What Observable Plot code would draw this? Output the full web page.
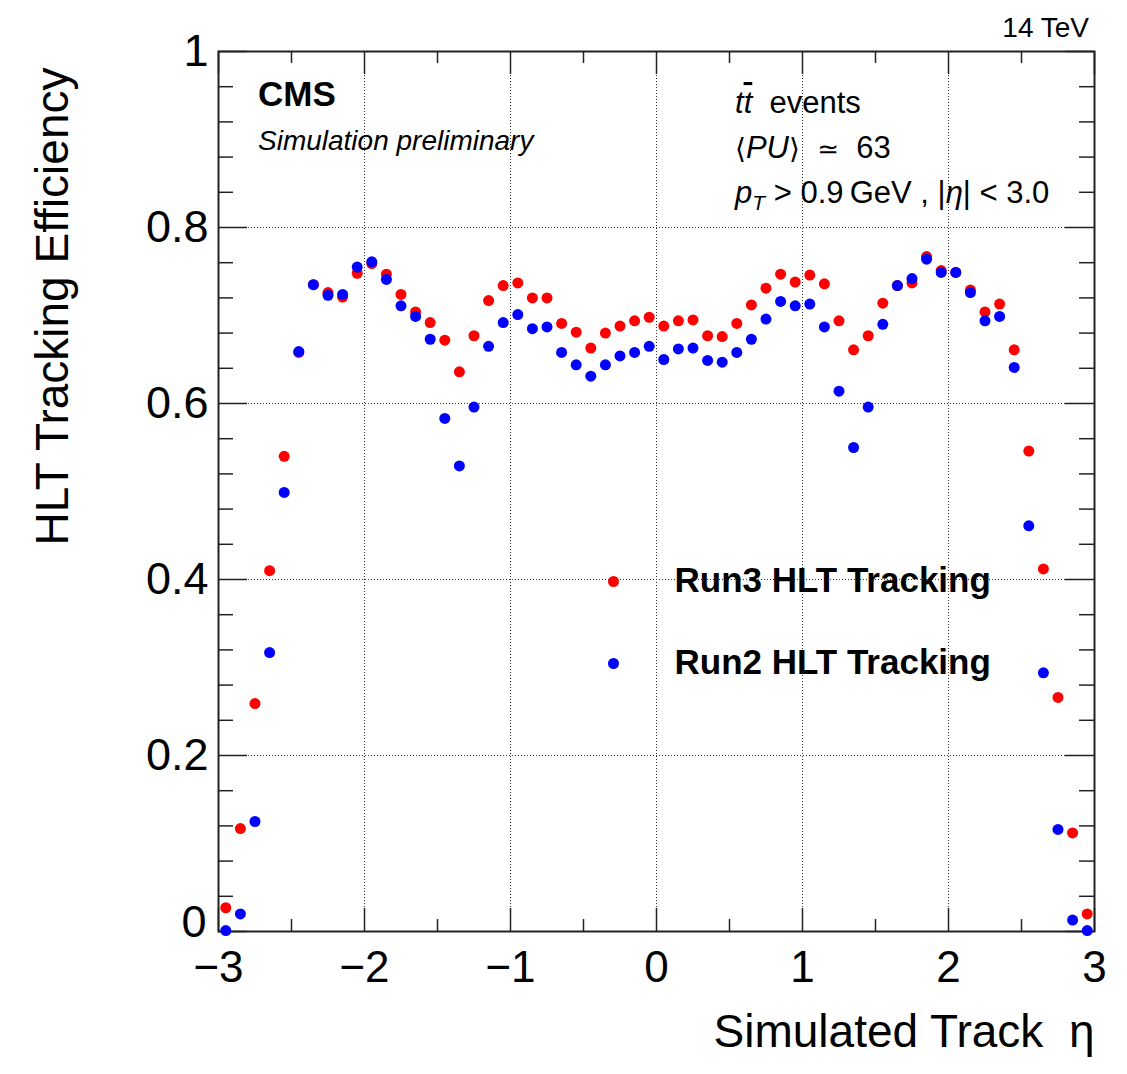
<!DOCTYPE html>
<html>
<head>
<meta charset="utf-8">
<script src="https://cdn.jsdelivr.net/npm/d3@7"></script>
<script src="https://cdn.jsdelivr.net/npm/@observablehq/plot@0.6"></script>
<style>
  html, body { margin: 0; padding: 0; background: #fff; }
  #chart { width: 1127px; height: 1074px; }
  svg { font-family: "Liberation Sans", Arial, Helvetica, sans-serif; }
</style>
</head>
<body>
<div id="chart"></div>
<script>
// ---- data ----
const eta = [-2.95,-2.85,-2.75,-2.65,-2.55,-2.45,-2.35,-2.25,-2.15,-2.05,
             -1.95,-1.85,-1.75,-1.65,-1.55,-1.45,-1.35,-1.25,-1.15,-1.05,
             -0.95,-0.85,-0.75,-0.65,-0.55,-0.45,-0.35,-0.25,-0.15,-0.05,
              0.05, 0.15, 0.25, 0.35, 0.45, 0.55, 0.65, 0.75, 0.85, 0.95,
              1.05, 1.15, 1.25, 1.35, 1.45, 1.55, 1.65, 1.75, 1.85, 1.95,
              2.05, 2.15, 2.25, 2.35, 2.45, 2.55, 2.65, 2.75, 2.85, 2.95];
const run3 = [0.027,0.117,0.259,0.410,0.540,0.658,0.735,0.726,0.721,0.748,
              0.759,0.747,0.724,0.704,0.692,0.672,0.636,0.677,0.717,0.734,
              0.737,0.720,0.720,0.691,0.681,0.663,0.680,0.688,0.694,0.698,
              0.688,0.694,0.695,0.677,0.676,0.691,0.712,0.731,0.747,0.738,
              0.746,0.736,0.694,0.661,0.677,0.714,0.734,0.737,0.767,0.751,
              0.749,0.729,0.704,0.713,0.661,0.546,0.412,0.266,0.112,0.020];
const run2 = [0.001,0.020,0.125,0.317,0.499,0.659,0.735,0.723,0.724,0.755,
              0.761,0.741,0.711,0.699,0.673,0.583,0.529,0.596,0.665,0.692,
              0.701,0.685,0.687,0.658,0.644,0.631,0.644,0.654,0.658,0.665,
              0.650,0.662,0.663,0.649,0.647,0.658,0.673,0.696,0.716,0.711,
              0.713,0.687,0.614,0.550,0.596,0.690,0.734,0.742,0.764,0.749,
              0.749,0.726,0.694,0.699,0.641,0.461,0.294,0.116,0.013,0.001];

const xMajor = [-3,-2,-1,0,1,2,3];
const xTickLabels = ["\u22123","\u22122","\u22121","0","1","2","3"];
const xMinor = [-2.5,-1.5,-0.5,0.5,1.5,2.5];
const xGrid = [-2,-1,0,1,2];
const yMajor = [0,0.2,0.4,0.6,0.8,1];
const yTickLabels = ["0","0.2","0.4","0.6","0.8","1"];
const yMinor = [0.04,0.08,0.12,0.16,0.24,0.28,0.32,0.36,0.44,0.48,0.52,0.56,0.64,0.68,0.72,0.76,0.84,0.88,0.92,0.96];
const yGrid = [0.2,0.4,0.6,0.8];

const legendLabels = ["Run3 HLT Tracking","Run2 HLT Tracking"];
const legendColors = ["#ff0000","#0000ff"];

const xTitle = "Simulated Track  \u03b7";
const yTitle = "HLT Tracking Efficiency";

// ---- build ----
const rows3 = eta.map((e,i) => ({eta: e, eff: run3[i]}));
const rows2 = eta.map((e,i) => ({eta: e, eff: run2[i]}));

const W = 1127, H = 1074;
const mL = 218, mR = 33, mT = 51, mB = 143;
const pw = W - mL - mR, ph = H - mT - mB;
const frameCol = "#222";
const yFmt = d => yTickLabels[yMajor.indexOf(d)];

const chart = Plot.plot({
  width: W, height: H,
  marginLeft: mL, marginRight: mR, marginTop: mT, marginBottom: mB,
  style: {fontFamily: "'Liberation Sans', Arial, Helvetica, sans-serif", background: "#fff", overflow: "visible"},
  x: {domain: [-3, 3]},
  y: {domain: [0, 1]},
  marks: [
    // grid
    Plot.ruleX(xGrid, {x: d => d, stroke: "#333", strokeWidth: 1, strokeDasharray: "1,2"}),
    Plot.ruleY(yGrid, {y: d => d, stroke: "#333", strokeWidth: 1, strokeDasharray: "1,2"}),
    // ticks x bottom / top
    Plot.tickX(xMajor, {x: d => d, stroke: frameCol, strokeWidth: 1.5, insetTop: ph - 23}),
    Plot.tickX(xMinor, {x: d => d, stroke: frameCol, strokeWidth: 1.5, insetTop: ph - 12}),
    Plot.tickX(xMajor, {x: d => d, stroke: frameCol, strokeWidth: 1.5, insetBottom: ph - 23}),
    Plot.tickX(xMinor, {x: d => d, stroke: frameCol, strokeWidth: 1.5, insetBottom: ph - 12}),
    // ticks y left / right
    Plot.tickY(yMajor, {y: d => d, stroke: frameCol, strokeWidth: 1.5, insetRight: pw - 29}),
    Plot.tickY(yMinor, {y: d => d, stroke: frameCol, strokeWidth: 1.5, insetRight: pw - 15}),
    Plot.tickY(yMajor, {y: d => d, stroke: frameCol, strokeWidth: 1.5, insetLeft: pw - 29}),
    Plot.tickY(yMinor, {y: d => d, stroke: frameCol, strokeWidth: 1.5, insetLeft: pw - 15}),
    // tick labels
    Plot.axisX({ticks: xMajor, tickSize: 0, tickPadding: 19, fontSize: 44, label: null,
                tickFormat: d => xTickLabels[xMajor.indexOf(d)], fill: "#000"}),
    Plot.axisY({ticks: yMajor.slice(1), tickSize: 0, tickPadding: 10, fontSize: 45, label: null,
                tickFormat: yFmt, fill: "#000"}),
    Plot.axisY({ticks: yMajor.slice(0, 1), tickSize: 0, tickPadding: 12, fontSize: 45, label: null,
                tickFormat: yFmt, fill: "#000", dy: -9}),
    Plot.frame({stroke: frameCol, strokeWidth: 2}),
    // data
    Plot.dot(rows3, {x: "eta", y: "eff", r: 5.5, fill: legendColors[0], stroke: null}),
    Plot.dot(rows2, {x: "eta", y: "eff", r: 5.5, fill: legendColors[1], stroke: null}),
    // legend
    Plot.dot([legendLabels[0]], {frameAnchor: "top-left", dx: 395, dy: 530, r: 5.5, fill: legendColors[0]}),
    Plot.dot([legendLabels[1]], {frameAnchor: "top-left", dx: 395, dy: 612, r: 5.5, fill: legendColors[1]}),
    Plot.text([legendLabels[0]], {text: d => d, frameAnchor: "top-left", dx: 456, dy: 540, lineAnchor: "bottom", textAnchor: "start", fontSize: 35, fontWeight: "bold", fill: "#000"}),
    Plot.text([legendLabels[1]], {text: d => d, frameAnchor: "top-left", dx: 456, dy: 622, lineAnchor: "bottom", textAnchor: "start", fontSize: 35, fontWeight: "bold", fill: "#000"}),
    // axis titles
    Plot.text([xTitle], {text: d => d, frameAnchor: "bottom-right", dx: 0, dy: 115, lineAnchor: "bottom", textAnchor: "end", fontSize: 46, fill: "#000"}),
    Plot.text([yTitle], {text: d => d, frameAnchor: "top-left", dx: -151, dy: 16, rotate: -90, lineAnchor: "bottom", textAnchor: "end", fontSize: 46, fill: "#000"})
  ]
});

document.getElementById("chart").appendChild(chart);

// ---- annotations (rich text) ----
const svg = d3.select(chart);
const g = svg.append("g").attr("fill", "#000").attr("text-anchor", "start");

g.append("text").attr("x", 1089).attr("y", 37).attr("text-anchor", "end")
  .attr("font-size", 28).text("14 TeV");

g.append("text").attr("x", 258).attr("y", 106).attr("font-size", 35)
  .attr("font-weight", "bold").text("CMS");

g.append("text").attr("x", 258).attr("y", 150).attr("font-size", 28)
  .attr("font-style", "italic").text("Simulation preliminary");

const t1 = g.append("text").attr("x", 735).attr("y", 113).attr("font-size", 31);
t1.append("tspan").attr("font-style", "italic").text("t");
t1.append("tspan").attr("font-style", "italic").style("text-decoration", "overline").text("t");
t1.append("tspan").text("\u00a0 events");

const t2 = g.append("text").attr("x", 735).attr("y", 158).attr("font-size", 31);
t2.append("tspan").attr("font-family", "'DejaVu Sans', sans-serif").attr("font-size", 28).text("\u27e8");
t2.append("tspan").attr("font-style", "italic").text("PU");
t2.append("tspan").attr("font-family", "'DejaVu Sans', sans-serif").attr("font-size", 28).text("\u27e9");
t2.append("tspan").text("\u00a0 ");
t2.append("tspan").attr("font-family", "'DejaVu Sans', sans-serif").attr("font-size", 26).text("\u2243");
t2.append("tspan").text("\u00a0 63");

const t3 = g.append("text").attr("x", 735).attr("y", 203).attr("font-size", 31);
t3.append("tspan").attr("font-style", "italic").text("p");
t3.append("tspan").attr("font-style", "italic").attr("font-size", 21).attr("dy", 7).text("T");
t3.append("tspan").attr("dy", -7).text(" > 0.9\u2009GeV , |");
t3.append("tspan").attr("font-style", "italic").text("\u03b7");
t3.append("tspan").text("| < 3.0");
</script>
</body>
</html>
